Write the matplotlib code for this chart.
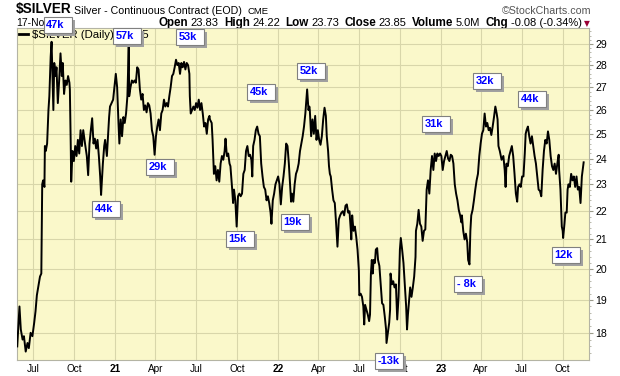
import numpy as np
import pandas as pd
import matplotlib
matplotlib.use('Agg')
import matplotlib.pyplot as plt
from matplotlib.patches import Rectangle
from matplotlib.text import Text
from matplotlib.offsetbox import DrawingArea, AnnotationBbox, TextArea, HPacker
from matplotlib.ticker import FixedLocator, NullFormatter

# ---------------- data ----------------
BASE_DATE = '2020-07-01'   # day offsets below are counted from this date

off_a = [-36, -31, -28, -24, -21, -17, -13, -10, -6, -2, 2, 5, 8, 11, 15, 18, 20, 22, 25, 26,
         28, 31, 34, 36, 39, 41, 43, 45, 47, 50, 52, 55, 58, 61, 64, 66, 69, 72, 75, 78,
         81, 82, 84, 85, 88, 91, 94, 97, 100, 103, 106, 109, 112, 116, 120, 123, 126, 129, 132, 135,
         138, 141, 144, 147, 150, 152, 156, 159, 161, 165, 167, 170]
px_a = [17.6, 18.8, 18.1, 17.8, 17.9, 17.45, 17.7, 17.55, 18.0, 17.9, 18.3, 18.65, 19.15, 19.4, 19.75, 19.85, 23.0, 23.15, 22.9, 24.5,
        24.3, 24.6, 26.0, 26.6, 28.4, 29.1, 27.5, 26.0, 28.1, 27.5, 27.9, 26.3, 27.3, 28.55, 27.5, 28.1, 26.7, 27.3, 27.1, 27.5,
        27.2, 26.9, 24.5, 23.1, 24.3, 23.9, 24.5, 24.1, 24.75, 24.2, 25.15, 24.5, 25.15, 24.6, 24.1, 23.35, 24.6, 25.15, 25.65, 24.6,
        24.8, 24.4, 24.75, 24.1, 23.3, 22.6, 23.8, 24.5, 24.75, 24.1, 24.75, 25.7]

off_b = [172, 179, 185, 188, 191, 193, 196, 199, 202, 205, 208, 211, 214, 215, 218, 221, 224, 227, 230, 233,
         236, 239, 242, 245, 248, 251, 254, 257, 260, 263, 266, 269, 272, 275, 278, 281, 284, 287, 290, 293,
         296, 299, 302, 305, 308, 311, 314, 317, 320, 323, 326, 329, 332, 335, 338, 341, 344, 347, 350, 351,
         353, 356, 359, 362, 365, 368, 371, 374, 377, 380, 383, 386, 389, 392, 395]
px_b = [26.15, 26.45, 27.6, 27.0, 25.45, 24.6, 25.6, 24.9, 25.7, 25.45, 25.85, 26.6, 28.9, 26.6, 27.0, 27.3, 27.2, 27.3, 27.2, 27.9,
        27.8, 26.9, 26.45, 26.7, 26.0, 26.2, 25.9, 26.3, 26.2, 25.85, 25.15, 24.9, 24.15, 24.9, 25.3, 25.6, 25.15, 25.85, 26.0, 26.45,
        26.15, 26.3, 26.15, 26.6, 27.0, 27.5, 27.6, 27.9, 28.25, 28.0, 28.1, 27.6, 28.1, 27.9, 28.15, 27.8, 28.1, 28.0, 27.6, 26.6,
        25.85, 26.0, 26.15, 26.0, 26.3, 26.1, 26.45, 26.0, 26.3, 25.85, 25.3, 25.45, 25.0, 25.6, 25.75]

off_c = [396, 400, 402, 405, 408, 411, 414, 417, 420, 423, 426, 429, 431, 434, 437, 440, 442, 446, 448, 450,
         453, 456, 459, 462, 465, 468, 471, 474, 477, 480, 483, 486, 489, 491, 493, 496, 499, 502, 505, 508,
         511, 514, 517, 520, 523, 526, 529, 532, 534, 537, 540, 543, 546, 549, 552, 555, 558, 561, 564, 567,
         570, 573, 576, 578, 580, 583, 586, 589, 592, 595, 598, 601, 604, 607, 610, 613, 614, 617, 619]
px_c = [25.6, 25.45, 24.75, 23.4, 23.7, 23.15, 23.55, 23.1, 23.8, 24.1, 23.95, 24.3, 24.8, 24.1, 24.2, 23.8, 23.7, 22.8, 22.3, 22.8,
        22.4, 21.45, 22.55, 22.65, 22.55, 22.65, 23.4, 23.55, 24.3, 24.5, 24.1, 24.15, 23.95, 23.3, 24.5, 24.75, 25.15, 25.3, 25.0, 24.9,
        23.8, 23.3, 22.9, 22.8, 22.4, 22.55, 22.3, 21.95, 21.55, 22.4, 22.65, 23.0, 23.15, 23.3, 23.0, 22.25, 22.9, 23.3, 23.8, 24.6,
        24.5, 23.8, 22.9, 22.35, 22.65, 22.35, 23.0, 23.4, 23.55, 23.8, 24.3, 24.6, 24.9, 25.3, 25.85, 26.6, 26.9, 26.0, 26.15]

off_d = [620, 623, 626, 629, 632, 635, 638, 641, 644, 647, 650, 653, 656, 658, 661, 663, 665, 667, 670, 673,
         676, 679, 682, 685, 688, 691, 694, 697, 700, 703, 706, 709, 712, 713, 715, 718, 721, 724, 727, 730,
         731, 734, 737, 740, 742, 744, 747, 750, 753, 755, 757, 759, 761, 763, 766, 768, 771, 773, 776, 779,
         782, 785, 788, 791, 792, 795, 798, 800, 801, 804, 807, 810, 813, 816, 819, 822, 824, 827, 830, 833,
         836, 838, 840]
px_d = [26.0, 24.9, 25.6, 25.0, 25.75, 24.75, 25.15, 24.75, 24.55, 24.9, 25.6, 26.1, 25.75, 24.9, 24.3, 23.7, 23.4, 23.3, 22.8, 22.4,
        22.3, 21.55, 20.75, 21.7, 21.85, 21.95, 22.0, 21.85, 22.2, 22.25, 21.95, 22.0, 21.3, 21.0, 21.85, 21.3, 21.45, 21.1, 20.65, 19.95,
        19.15, 19.2, 19.1, 18.8, 18.25, 18.85, 18.7, 18.55, 18.35, 18.55, 19.85, 20.3, 19.85, 20.3, 20.2, 20.65, 20.7, 20.3, 20.1, 19.5,
        18.9, 18.85, 18.5, 18.1, 17.7, 18.0, 18.3, 18.7, 19.85, 19.5, 19.6, 19.4, 19.5, 18.4, 19.1, 20.65, 21.05, 20.65, 20.2, 19.5,
        18.8, 18.1, 18.55]

off_e = [845, 848, 851, 854, 857, 858, 861, 864, 867, 870, 873, 876, 879, 882, 885, 888, 891, 894, 897, 900,
         903, 906, 909, 912, 915, 918, 921, 924, 927, 930, 933, 936, 939, 942, 945, 948, 951, 954, 957, 960,
         961, 964, 967, 970, 973, 975, 978, 980, 982, 985, 988, 991, 994, 997, 1000, 1003, 1006, 1009, 1012, 1015,
         1018, 1021, 1024, 1027, 1030, 1033, 1036, 1039, 1041, 1043]
px_e = [19.4, 19.1, 19.4, 19.75, 20.4, 21.3, 21.55, 22.05, 21.55, 21.45, 20.95, 21.3, 21.35, 22.8, 23.15, 22.65, 23.55, 24.1, 23.55, 24.2,
        23.9, 24.2, 24.1, 24.2, 24.1, 23.55, 23.9, 24.1, 24.3, 24.0, 23.9, 24.15, 24.1, 23.8, 23.0, 22.65, 22.4, 22.05, 21.85, 21.6,
        21.85, 21.3, 21.0, 21.2, 20.9, 20.3, 20.15, 21.3, 21.85, 22.05, 22.4, 22.8, 23.15, 23.4, 24.1, 24.6, 25.0, 25.15, 25.85, 25.3,
        25.45, 25.15, 25.25, 24.95, 25.3, 25.7, 26.15, 25.85, 25.6, 24.5]

off_f = [1046, 1050, 1054, 1057, 1059, 1061, 1064, 1067, 1070, 1073, 1076, 1079, 1082, 1085, 1087, 1090, 1093, 1096, 1099, 1102,
         1104, 1106, 1109, 1112, 1115, 1118, 1121, 1124, 1127, 1130, 1133, 1136, 1139, 1142, 1145, 1148, 1151, 1154, 1157, 1160,
         1163, 1166, 1169, 1172, 1175, 1178, 1179, 1182, 1185, 1187, 1188, 1191, 1193, 1196, 1198, 1200, 1203, 1206, 1209, 1212,
         1215, 1218, 1221, 1224, 1227, 1230, 1234]
px_f = [24.3, 23.95, 24.1, 23.55, 22.9, 23.8, 23.7, 24.1, 24.3, 24.5, 24.1, 23.4, 22.65, 22.35, 22.9, 23.0, 22.9, 23.3, 23.3, 24.2,
        25.0, 25.15, 25.3, 24.9, 24.6, 24.9, 24.5, 24.1, 23.8, 23.3, 22.8, 22.75, 22.55, 23.55, 24.3, 24.75, 24.6, 25.1, 24.75, 24.1,
        23.7, 23.55, 23.8, 23.4, 23.8, 24.15, 23.55, 22.8, 21.45, 21.3, 21.05, 21.55, 21.95, 21.95, 22.8, 23.0, 22.9, 23.4, 23.15, 23.3,
        22.9, 23.3, 22.8, 22.9, 22.3, 23.3, 23.85]

# COT net position labels: text, day offset and price of the box's top-left corner
cot_labels = ['47k', '57k', '53k', '45k', '52k', '29k', '44k', '15k', '19k', '-13k', '31k', '32k', '- 8k', '44k', '12k']
cot_days = [23, 178, 321, 480, 591, 252, 132, 431, 555, 766, 872, 987, 944, 1087, 1162]
cot_prices = [30.32, 29.77, 29.72, 27.13, 28.09, 23.97, 22.38, 21.28, 21.89, 17.42, 25.76, 27.63, 19.78, 26.84, 20.73]

x_tick_dates = ['2020-07-01', '2020-10-01', '2021-01-01', '2021-04-01', '2021-07-01', '2021-10-01', '2022-01-01',
                '2022-04-01', '2022-07-01', '2022-10-01', '2023-01-01', '2023-04-01', '2023-07-01', '2023-10-01']
x_tick_labels = ['Jul', 'Oct', '21', 'Apr', 'Jul', 'Oct', '22', 'Apr', 'Jul', 'Oct', '23', 'Apr', 'Jul', 'Oct']
year_labels = {'21', '22', '23'}
y_ticks = [18, 19, 20, 21, 22, 23, 24, 25, 26, 27, 28, 29]

header_pairs = [('Open', '23.83'), ('High', '24.22'), ('Low', '23.73'), ('Close', '23.85'),
                ('Volume', '5.0M'), ('Chg', '-0.08 (-0.34%)')]

segments = [(off_a, px_a), (off_b, px_b), (off_c, px_c), (off_d, px_d), (off_e, px_e), (off_f, px_f)]
for o, p in segments:
    assert len(o) == len(p), (len(o), len(p))
day_offsets = [d for o, _ in segments for d in o]
prices = [v for _, p in segments for v in p]

# ---------------- figure ----------------
W, H = 620, 376
FONT = ['Liberation Sans', 'DejaVu Sans']
NARROW = ['Liberation Sans Narrow', 'Liberation Sans', 'DejaVu Sans']
plt.rcParams['font.family'] = FONT

def fx(x):
    return x / W

def fy(y):
    return 1 - y / H

fig = plt.figure(figsize=(W / 100, H / 100), dpi=100)
fig.patch.set_facecolor('white')
ax_l, ax_r, ax_t, ax_b = 16.7, 589.0, 28.0, 360.0
ax = fig.add_axes([fx(ax_l), fy(ax_b), (ax_r - ax_l) / W, (ax_b - ax_t) / H])
ax.set_zorder(5)
ax.set_facecolor('#FAF8CA')

base = pd.Timestamp(BASE_DATE)
dates = base + pd.to_timedelta(day_offsets, unit='D')
line, = ax.plot(dates, prices, color='black', lw=1.4, zorder=3)

ax.set_yscale('log')
ax.set_ylim(17.21, 29.77)
ax.set_xlim(base + pd.Timedelta(days=-37.2), base + pd.Timedelta(days=1246))

ax.set_xticks(pd.to_datetime(x_tick_dates))
ax.set_xticklabels(x_tick_labels)
for lbl in ax.get_xticklabels():
    lbl.set_family(NARROW)
    if lbl.get_text() in year_labels:
        lbl.set_fontweight('bold')

ax.yaxis.tick_right()
ax.yaxis.set_major_locator(FixedLocator(y_ticks))
ax.set_yticklabels([str(t) for t in y_ticks])
ax.yaxis.set_minor_locator(FixedLocator(np.arange(17.4, 29.8, 0.2)))
ax.yaxis.set_minor_formatter(NullFormatter())
for lbl in ax.get_yticklabels():
    lbl.set_family(NARROW)

ax.tick_params(axis='x', which='both', length=0, labelsize=7.2, pad=3.0, colors='black')
ax.tick_params(axis='y', which='major', length=3, width=0.8, color='#9A9A8A', labelsize=7.6, pad=1.5)
ax.tick_params(axis='y', which='minor', length=1.5, width=0.6, color='#B0B0A0')
ax.grid(True, which='major', color='#D8D6AA', lw=0.8)
ax.set_axisbelow(True)
for s in ax.spines.values():
    s.set_color('#B4B4A4')
    s.set_linewidth(0.8)

leg = ax.legend([line], ['\\$SILVER (Daily)  23.85'], loc='upper left', frameon=False,
                fontsize=8.2, handlelength=0.75, handletextpad=0.4, borderaxespad=0.1, borderpad=0.1)
for h in leg.get_lines():
    h.set_linewidth(2.0)

# ---------------- header ----------------
fig.text(fx(16), fy(13.5), '\\$SILVER', fontsize=9.8, fontweight='bold', va='baseline', ha='left')
fig.text(fx(74), fy(13.5), 'Silver - Continuous Contract (EOD)', fontsize=7.7, va='baseline', ha='left')
fig.text(fx(247), fy(13.5), 'CME', fontsize=6.8, va='baseline', ha='left')
fig.text(fx(591), fy(13.5), '\u00a9StockCharts.com', fontsize=7.7, color='#555555', va='baseline', ha='right')
fig.text(fx(16), fy(26.5), '17-Nov', fontsize=7.5, va='baseline', ha='left')

pairs = []
for lab, val in header_pairs:
    pairs.append(HPacker(children=[TextArea(lab, textprops=dict(fontsize=8.4, fontweight='bold')),
                                   TextArea(val, textprops=dict(fontsize=8.0))],
                         sep=1.9, pad=0, align='baseline'))
hdr = HPacker(children=pairs, sep=3.8, pad=0, align='baseline')
fig.add_artist(AnnotationBbox(hdr, (fx(582), fy(23)), xycoords='figure fraction',
                              box_alignment=(1, 0.5), frameon=False, pad=0))
fig.text(fx(583.5), fy(23.5), '\u25bc', fontsize=5.5, color='#990033', va='center', ha='left',
         family='DejaVu Sans')

# ---------------- COT boxes ----------------
PT = 72 / 100
BW, BH, SH = 28, 16, 3
for lab, d, p in zip(cot_labels, cot_days, cot_prices):
    da = DrawingArea((BW + SH) * PT, (BH + SH) * PT, 0, 0, clip=False)
    da.add_artist(Rectangle((SH * PT, 0), BW * PT, BH * PT, fc='#A0A0A0', ec='none'))
    da.add_artist(Rectangle((0, SH * PT), BW * PT, BH * PT, fc='white', ec='#808080', lw=0.8))
    da.add_artist(Text(2.6 * PT, (SH + BH / 2) * PT, lab, color='#0000FF', fontweight='bold',
                       fontsize=7.9, va='center', ha='left', family='Liberation Sans'))
    ab = AnnotationBbox(da, (base + pd.Timedelta(days=d), p), xycoords='data', box_alignment=(0, 1),
                        frameon=False, pad=0, annotation_clip=False, zorder=10)
    ax.add_artist(ab)
    ab.set_clip_on(False)

fig.savefig('out.png', dpi=100, facecolor='white')
